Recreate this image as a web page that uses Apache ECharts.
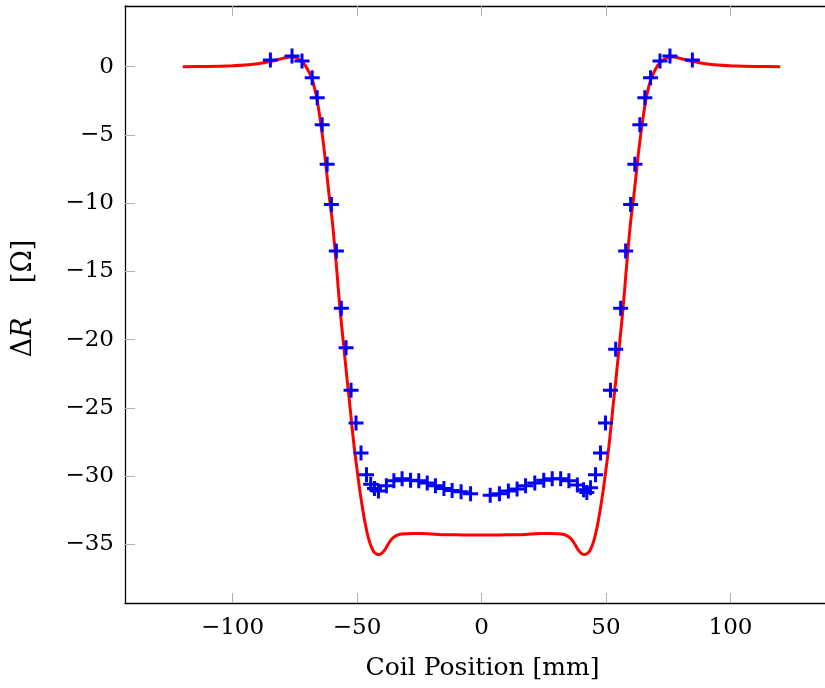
<!DOCTYPE html>
<html>
<head>
<meta charset="utf-8">
<script src="https://cdn.jsdelivr.net/npm/echarts@6/dist/echarts.min.js"></script>
<style>
html,body{margin:0;padding:0;background:#fff;}
#chart{width:825px;height:688px;}
</style>
</head>
<body>
<div id="chart"></div>
<script>
// Simulation curve (red)
const redX = [-120,-110,-100,-95,-90,-85,-80,-77,-75,-73,-71,-70,-69,-68,-67,-66,-65,-64,-63,-62,-61,-60,-59,-58,-57,-56,-55,-54,-53,-52,-51,-50,-49,-48,-47,-46,-45,-44,-43,-42,-41,-40,-39,-38,-37,-36,-34,-32,-28,-24,-20,-15,-10,-5,0,
  5,10,15,20,24,28,32,34,36,37,38,39,40,41,42,43,44,45,46,47,48,49,50,51,52,53,54,55,56,57,58,59,60,61,62,63,64,65,66,67,68,69,70,71,73,75,77,80,85,90,95,100,110,120];
const redY = [0,0.02,0.07,0.12,0.22,0.38,0.6,0.72,0.7,0.5,0.15,-0.15,-0.5,-0.95,-1.6,-2.45,-3.6,-4.9,-6.4,-8.1,-9.75,-11.2,-13.1,-15.2,-17.4,-19.3,-21.1,-22.9,-24.6,-26.4,-28.1,-29.5,-30.9,-32.1,-33.2,-34.1,-34.8,-35.3,-35.6,-35.72,-35.75,-35.65,-35.45,-35.15,-34.85,-34.6,-34.35,-34.25,-34.2,-34.2,-34.25,-34.3,-34.3,-34.32,-34.32,
  -34.32,-34.3,-34.3,-34.25,-34.2,-34.2,-34.25,-34.35,-34.6,-34.85,-35.15,-35.45,-35.65,-35.75,-35.72,-35.6,-35.3,-34.8,-34.1,-33.2,-32.1,-30.9,-29.5,-28.1,-26.4,-24.6,-22.9,-21.1,-19.3,-17.4,-15.2,-13.1,-11.2,-9.75,-8.1,-6.4,-4.9,-3.6,-2.45,-1.6,-0.95,-0.5,-0.15,0.15,0.5,0.7,0.72,0.6,0.38,0.22,0.12,0.07,0.02,0];

// Measurements (blue +)
const blueX = [-84.8,-76.1,-72.1,-68.0,-66.0,-64.0,-62.0,-60.3,-58.3,-56.3,-54.4,-52.4,-50.4,-48.4,-46.2,-44.5,-43.0,-41.4,-38.2,-35.2,-31.9,-28.5,-25.2,-21.8,-18.5,-15.1,-11.8,-8.2,-4.4,
  3.5,7.2,10.8,14.3,17.7,21.4,25.0,28.4,31.8,35.1,38.5,41.0,42.3,43.8,45.8,47.8,49.8,51.8,53.9,55.9,57.9,59.9,61.6,63.6,65.6,67.9,71.7,75.7,84.7];
const blueY = [0.5,0.78,0.42,-0.8,-2.27,-4.26,-7.14,-10.1,-13.5,-17.7,-20.6,-23.7,-26.1,-28.3,-29.9,-30.6,-30.9,-31.1,-30.7,-30.35,-30.2,-30.3,-30.35,-30.5,-30.7,-30.9,-31.05,-31.15,-31.3,
  -31.4,-31.3,-31.1,-30.95,-30.7,-30.5,-30.3,-30.2,-30.2,-30.35,-30.65,-31.0,-31.2,-30.85,-29.9,-28.3,-26.1,-23.7,-20.7,-17.7,-13.5,-10.1,-7.14,-4.26,-2.27,-0.8,0.42,0.78,0.49];

const xTicks = [-100,-50,0,50,100];
const yTicks = [-35,-30,-25,-20,-15,-10,-5,0];

const FONT = 'DejaVu Serif';
const FS = 23;
const fmt = v => String(v).replace('-', '\u2212');

const chart = echarts.init(document.getElementById('chart'), null, {renderer:'canvas'});
const plus = 'path://M6.4,0H9.6V6.4H16V9.6H9.6V16H6.4V9.6H0V6.4H6.4Z';

chart.setOption({
  animation:false,
  backgroundColor:'#ffffff',
  grid:{left:125, top:6, width:715, bottom:85, containLabel:false, outerBoundsMode:'none'},
  xAxis:[{
    type:'value', min:-143.2, max:144, position:'bottom',
    name:'Coil Position [mm]', nameLocation:'middle', nameGap:53,
    nameTextStyle:{fontFamily:FONT, fontSize:25, color:'#000'},
    axisLine:{show:true, onZero:false, lineStyle:{color:'#000', width:1.3}},
    axisTick:{show:true, inside:true, length:10, customValues:xTicks, lineStyle:{color:'#b0b0b0', width:1}},
    axisLabel:{customValues:xTicks, formatter:fmt, fontFamily:FONT, fontSize:FS, color:'#000', margin:14},
    splitLine:{show:false}
  },{
    type:'value', min:-143.2, max:144, position:'top',
    axisLine:{show:true, onZero:false, lineStyle:{color:'#000', width:1.3}},
    axisTick:{show:true, inside:true, length:10, customValues:xTicks, lineStyle:{color:'#b0b0b0', width:1}},
    axisLabel:{show:false},
    splitLine:{show:false}
  }],
  yAxis:[{
    type:'value', min:-39.3, max:4.45, position:'left',
    name:'{d|\u0394}{r|R}{d|    [\u03A9]}', nameLocation:'middle', nameGap:88, nameRotate:90,
    nameTextStyle:{padding:[0,0,0,12], rich:{d:{fontFamily:FONT, fontSize:27, color:'#000'}, r:{fontFamily:FONT, fontSize:27, fontStyle:'italic', color:'#000'}}},
    axisLine:{show:true, onZero:false, lineStyle:{color:'#000', width:1.3}},
    axisTick:{show:true, inside:true, length:10, customValues:yTicks, lineStyle:{color:'#b0b0b0', width:1}},
    axisLabel:{customValues:yTicks, formatter:fmt, fontFamily:FONT, fontSize:FS, color:'#000', margin:11},
    splitLine:{show:false}
  }],
  series:[{
    type:'line',
    data:redX.map((x,i)=>[x, redY[i]]),
    showSymbol:false, smooth:0.3,
    lineStyle:{color:'#ff0000', width:3},
    z:2
  },{
    type:'scatter',
    data:blueX.map((x,i)=>[x, blueY[i]]),
    symbol:plus, symbolSize:15,
    itemStyle:{color:'#0000ff', opacity:1},
    z:3
  }]
});
</script>
</body>
</html>
